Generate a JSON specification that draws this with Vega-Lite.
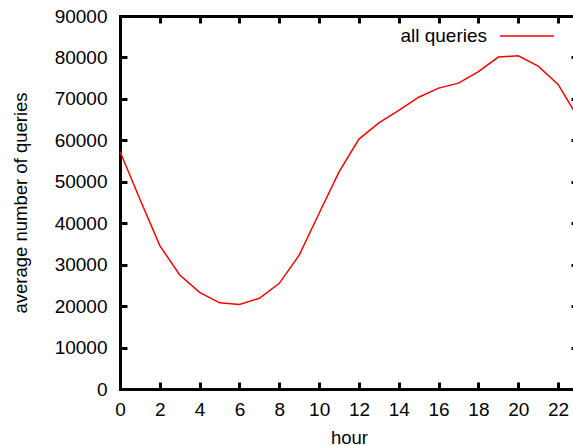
{
  "$schema": "https://vega.github.io/schema/vega-lite/v6.json",
  "width": 458,
  "height": 373,
  "autosize": {"type": "none"},
  "padding": {"left": 120, "top": 16, "right": -5, "bottom": 57},
  "background": "white",
  "config": {
    "font": "Liberation Sans",
    "view": {"stroke": null},
    "axis": {
      "grid": false,
      "domainColor": "black",
      "domainWidth": 3,
      "domainCap": "square",
      "tickColor": "black",
      "tickWidth": 3,
      "tickSize": -7,
      "labelFont": "Liberation Sans",
      "labelFontSize": 19,
      "labelColor": "black",
      "titleFont": "Liberation Sans",
      "titleFontSize": 18.5,
      "titleFontWeight": "normal",
      "titleColor": "black"
    }
  },
  "data": {
    "values": [
      {"hour": 0, "queries": 57300, "series": "all queries"},
      {"hour": 1, "queries": 45800, "series": "all queries"},
      {"hour": 2, "queries": 34600, "series": "all queries"},
      {"hour": 3, "queries": 27500, "series": "all queries"},
      {"hour": 4, "queries": 23300, "series": "all queries"},
      {"hour": 5, "queries": 20800, "series": "all queries"},
      {"hour": 6, "queries": 20400, "series": "all queries"},
      {"hour": 7, "queries": 21900, "series": "all queries"},
      {"hour": 8, "queries": 25500, "series": "all queries"},
      {"hour": 9, "queries": 32300, "series": "all queries"},
      {"hour": 10, "queries": 42400, "series": "all queries"},
      {"hour": 11, "queries": 52400, "series": "all queries"},
      {"hour": 12, "queries": 60300, "series": "all queries"},
      {"hour": 13, "queries": 64200, "series": "all queries"},
      {"hour": 14, "queries": 67200, "series": "all queries"},
      {"hour": 15, "queries": 70400, "series": "all queries"},
      {"hour": 16, "queries": 72600, "series": "all queries"},
      {"hour": 17, "queries": 73800, "series": "all queries"},
      {"hour": 18, "queries": 76600, "series": "all queries"},
      {"hour": 19, "queries": 80100, "series": "all queries"},
      {"hour": 20, "queries": 80400, "series": "all queries"},
      {"hour": 21, "queries": 77900, "series": "all queries"},
      {"hour": 22, "queries": 73500, "series": "all queries"},
      {"hour": 23, "queries": 65500, "series": "all queries"}
    ]
  },
  "layer": [
    {
      "mark": {"type": "line", "strokeWidth": 1.5},
      "encoding": {
        "x": {
          "field": "hour", "type": "quantitative",
          "scale": {"domain": [0, 23], "nice": false, "zero": false},
          "axis": {"orient": "bottom", "title": "hour", "values": [0,2,4,6,8,10,12,14,16,18,20,22], "labelPadding": 18, "titlePadding": 9, "labelFlush": false, "labelOverlap": false}
        },
        "y": {
          "field": "queries", "type": "quantitative",
          "scale": {"domain": [0, 90000], "nice": false},
          "axis": {"orient": "left", "title": "average number of queries", "values": [0,10000,20000,30000,40000,50000,60000,70000,80000,90000], "format": "d", "labelPadding": 20, "titlePadding": 24, "labelFlush": false, "labelOverlap": false}
        },
        "color": {
          "field": "series", "type": "nominal",
          "scale": {"range": ["#ff0000"]},
          "legend": {
            "orient": "none", "legendX": 379, "legendY": -8, "title": null, "padding": 0,
            "symbolType": "stroke", "symbolSize": 2916, "symbolStrokeWidth": 1.5,
            "labelAlign": "right", "labelOffset": -68, "labelFontSize": 19, "labelColor": "black", "labelFont": "Liberation Sans"
          }
        }
      }
    },
    {
      "mark": {"type": "line", "opacity": 0},
      "encoding": {
        "x": {
          "field": "hour", "type": "quantitative",
          "scale": {"domain": [0, 23], "nice": false, "zero": false},
          "axis": {"orient": "top", "title": null, "labels": false, "values": [0,2,4,6,8,10,12,14,16,18,20,22]}
        },
        "y": {
          "field": "queries", "type": "quantitative",
          "scale": {"domain": [0, 90000], "nice": false},
          "axis": {"orient": "right", "title": null, "labels": false, "values": [0,10000,20000,30000,40000,50000,60000,70000,80000,90000]}
        }
      }
    }
  ],
  "resolve": {"axis": {"x": "independent", "y": "independent"}}
}
